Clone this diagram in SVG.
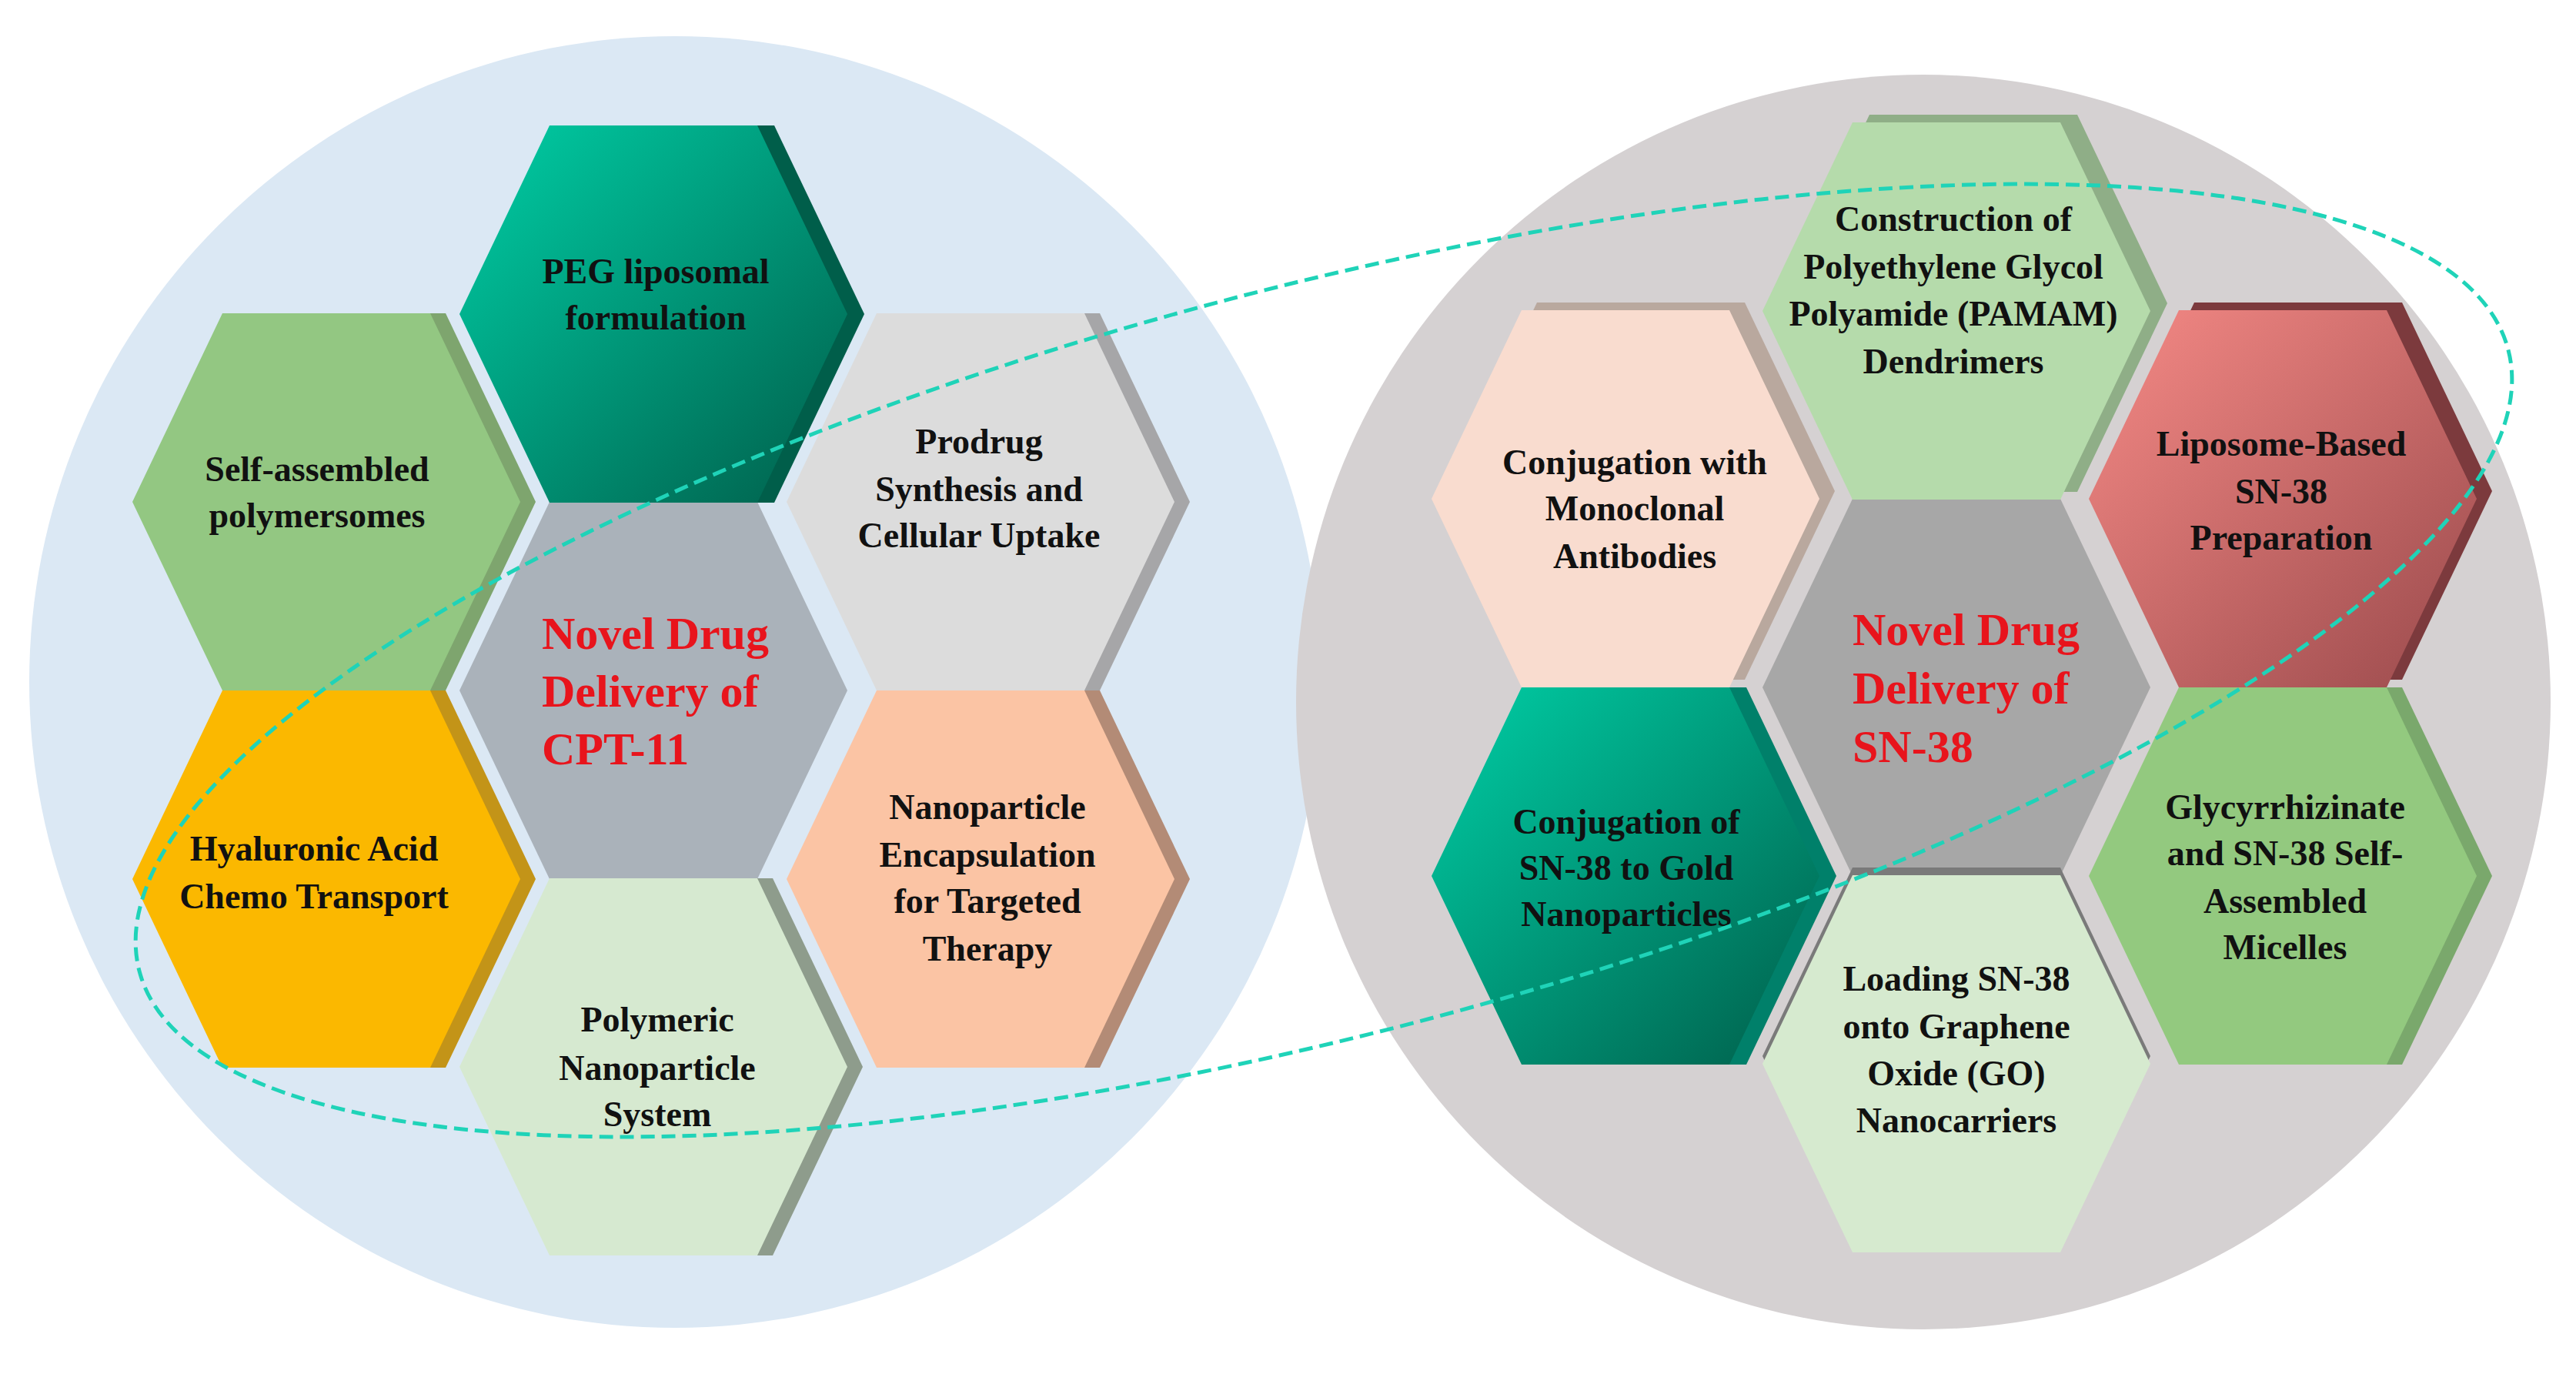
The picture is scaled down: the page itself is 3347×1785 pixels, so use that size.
<svg xmlns="http://www.w3.org/2000/svg" xmlns:xlink="http://www.w3.org/1999/xlink" width="3347" height="1785" viewBox="0 0 3347 1785">
<style>
.t{font-family:"Liberation Serif","Times New Roman",serif;font-weight:bold;font-size:46px;fill:#111;text-anchor:middle}
.r{font-family:"Liberation Serif","Times New Roman",serif;font-weight:bold;font-size:60px;fill:#e8141c}
</style>
<defs>
<path id="hx" d="M-252,0 L-135,-245 L135,-245 L252,0 L135,245 L-135,245Z"/>
<linearGradient id="teal" x1="0" y1="0" x2="1" y2="1"><stop offset="0" stop-color="#00cfa6"/><stop offset="1" stop-color="#005e4a"/></linearGradient>
<linearGradient id="red" x1="0" y1="0" x2="1" y2="1"><stop offset="0" stop-color="#f68a86"/><stop offset="1" stop-color="#9a4a4c"/></linearGradient>
</defs>
<circle cx="877" cy="886" r="839" fill="#dbe8f4"/>
<circle cx="2499" cy="912" r="815" fill="#d5d1d2"/>
<g id="center-cpt11">
<use href="#hx" transform="translate(849,897)" fill="#aab2ba"/>
<text class="r" x="704" y="843">Novel Drug</text><text class="r" x="704" y="918">Delivery of</text><text class="r" x="704" y="993">CPT-11</text>
</g>
<g id="center-sn38">
<use href="#hx" transform="translate(2542,893)" fill="#a7a7a7"/>
<text class="r" x="2407" y="838">Novel Drug</text><text class="r" x="2407" y="914">Delivery of</text><text class="r" x="2407" y="990">SN-38</text>
</g>
<g id="peg"><use href="#hx" transform="translate(871,408)" fill="#005e4a"/><use href="#hx" transform="translate(849,408)" fill="url(#teal)"/>
<text class="t" x="852" y="368">PEG liposomal</text><text class="t" x="852" y="428">formulation</text></g>
<g id="selfassembled"><use href="#hx" transform="translate(444,652)" fill="#7ea56e"/><use href="#hx" transform="translate(424,652)" fill="#93c782"/>
<text class="t" x="412" y="625">Self-assembled</text><text class="t" x="412" y="685">polymersomes</text></g>
<g id="prodrug"><use href="#hx" transform="translate(1294,652)" fill="#a6a6a8"/><use href="#hx" transform="translate(1274,652)" fill="#dcdcdc"/>
<text class="t" x="1272" y="589">Prodrug</text><text class="t" x="1272" y="651">Synthesis and</text><text class="t" x="1272" y="711">Cellular Uptake</text></g>
<g id="hyaluronic"><use href="#hx" transform="translate(444,1142)" fill="#c39418"/><use href="#hx" transform="translate(424,1142)" fill="#fbb800"/>
<text class="t" x="408" y="1118">Hyaluronic Acid</text><text class="t" x="408" y="1180">Chemo Transport</text></g>
<g id="nanoparticle"><use href="#hx" transform="translate(1294,1142)" fill="#b38b76"/><use href="#hx" transform="translate(1274,1142)" fill="#fbc4a4"/>
<text class="t" x="1283" y="1064">Nanoparticle</text><text class="t" x="1283" y="1126">Encapsulation</text><text class="t" x="1283" y="1186">for Targeted</text><text class="t" x="1283" y="1248">Therapy</text></g>
<g id="polymeric"><use href="#hx" transform="translate(869,1386)" fill="#8e9c8c"/><use href="#hx" transform="translate(849,1386)" fill="#d6e9d0"/>
<text class="t" x="854" y="1340">Polymeric</text><text class="t" x="854" y="1403">Nanoparticle</text><text class="t" x="854" y="1463">System</text></g>
<g id="construction"><use href="#hx" transform="translate(2564,394)" fill="#8fae87"/><use href="#hx" transform="translate(2542,404)" fill="#b5dbab"/>
<text class="t" x="2538" y="300">Construction of</text><text class="t" x="2538" y="362">Polyethylene Glycol</text><text class="t" x="2538" y="423">Polyamide (PAMAM)</text><text class="t" x="2538" y="485">Dendrimers</text></g>
<g id="monoclonal"><use href="#hx" transform="translate(2132,638)" fill="#b9a89e"/><use href="#hx" transform="translate(2112,648)" fill="#f9dccf"/>
<text class="t" x="2124" y="616">Conjugation with</text><text class="t" x="2124" y="676">Monoclonal</text><text class="t" x="2124" y="738">Antibodies</text></g>
<g id="liposome"><use href="#hx" transform="translate(2986,638)" fill="#7c3a3d"/><use href="#hx" transform="translate(2966,648)" fill="url(#red)"/>
<text class="t" x="2964" y="592">Liposome-Based</text><text class="t" x="2964" y="654">SN-38</text><text class="t" x="2964" y="714">Preparation</text></g>
<g id="gold"><use href="#hx" transform="translate(2134,1138)" fill="#00806a"/><use href="#hx" transform="translate(2112,1138)" fill="url(#teal)"/>
<text class="t" x="2113" y="1083">Conjugation of</text><text class="t" x="2113" y="1143">SN-38 to Gold</text><text class="t" x="2113" y="1203">Nanoparticles</text></g>
<g id="glycyrrhizinate"><use href="#hx" transform="translate(2986,1138)" fill="#7aa86c"/><use href="#hx" transform="translate(2966,1138)" fill="#93c97f"/>
<text class="t" x="2969" y="1064">Glycyrrhizinate</text><text class="t" x="2969" y="1124">and SN-38 Self-</text><text class="t" x="2969" y="1186">Assembled</text><text class="t" x="2969" y="1246">Micelles</text></g>
<g id="graphene"><use href="#hx" transform="translate(2542,1372)" fill="#7a7a7a"/><use href="#hx" transform="translate(2542,1382)" fill="#d6eacf"/>
<text class="t" x="2542" y="1287">Loading SN-38</text><text class="t" x="2542" y="1349">onto Graphene</text><text class="t" x="2542" y="1410">Oxide (GO)</text><text class="t" x="2542" y="1471">Nanocarriers</text></g>
<g id="connectors">
<ellipse cx="1720" cy="858" rx="1591" ry="485" transform="rotate(-14.7 1720 858)" fill="none" stroke="#1fd3b8" stroke-width="5" stroke-dasharray="18 9"/>
</g>
</svg>
